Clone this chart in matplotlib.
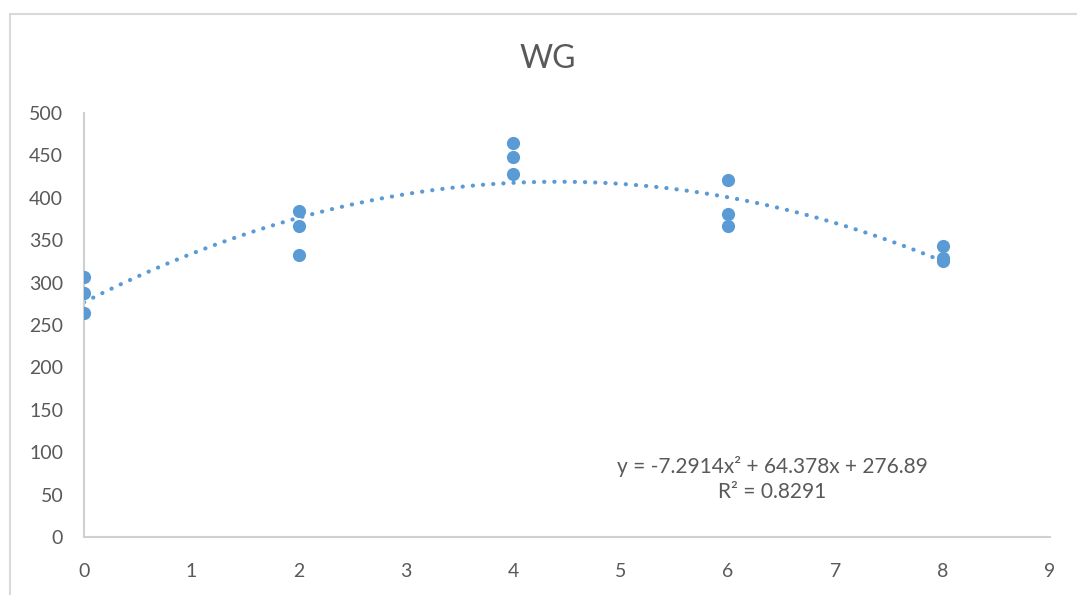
import numpy as np
import matplotlib.pyplot as plt
from matplotlib.lines import Line2D

x_vals = [0, 0, 0, 2, 2, 2, 4, 4, 4, 6, 6, 6, 8, 8, 8]
wg_vals = [307, 288, 264, 384, 367, 332, 465, 448, 428, 421, 381, 367, 343, 329, 325]

# polynomial trendline, as printed on the chart
trend_coef = [-7.2914, 64.378, 276.89]
trend_label = "y = -7.2914x\u00b2 + 64.378x + 276.89\nR\u00b2 = 0.8291"

x_ticks = list(range(0, 10))
y_ticks = list(range(0, 501, 50))

blue = "#5B9BD5"
text_gray = "#595959"
axis_gray = "#D0D0D0"

plt.rcParams['font.family'] = ['Lato', 'DejaVu Sans']

fig = plt.figure(figsize=(10.77, 5.95), dpi=100)
ax = fig.add_axes([0.078, 0.0975, 0.897, 0.7125])

xs = np.linspace(0, 8, 200)
ax.plot(xs, np.polyval(trend_coef, xs), color=blue, lw=3.0,
        dashes=[0.05, 2.4], dash_capstyle='round', zorder=2)
ax.plot(x_vals, wg_vals, 'o', color=blue, markersize=9.5, markeredgewidth=0, zorder=3)

ax.set_xlim(0, 9)
ax.set_ylim(0, 500)
ax.set_xticks(x_ticks)
ax.set_yticks(y_ticks)
ax.tick_params(length=0, labelsize=14, labelcolor=text_gray)
ax.tick_params(axis='x', pad=19)
ax.tick_params(axis='y', pad=15)
for s in ['top', 'right']:
    ax.spines[s].set_visible(False)
for s in ['left', 'bottom']:
    ax.spines[s].set_color(axis_gray)
    ax.spines[s].set_linewidth(1.5)

ax.text(6.41, 68, trend_label, ha='center', va='center', fontsize=15,
        color=text_gray, multialignment='center', linespacing=1.3)

fig.text(0.509, 0.90, "WG", ha='center', va='center', fontsize=23, color=text_gray)

# chart area border (only top and left edge are visible in the crop)
fig.add_artist(Line2D([10 / 1077, 1.0], [1 - 14 / 595, 1 - 14 / 595],
                      transform=fig.transFigure, color="#D9D9D9", lw=1.5))
fig.add_artist(Line2D([10 / 1077, 10 / 1077], [0.0, 1 - 14 / 595],
                      transform=fig.transFigure, color="#D9D9D9", lw=1.5))

fig.savefig("out.png", dpi=100)
